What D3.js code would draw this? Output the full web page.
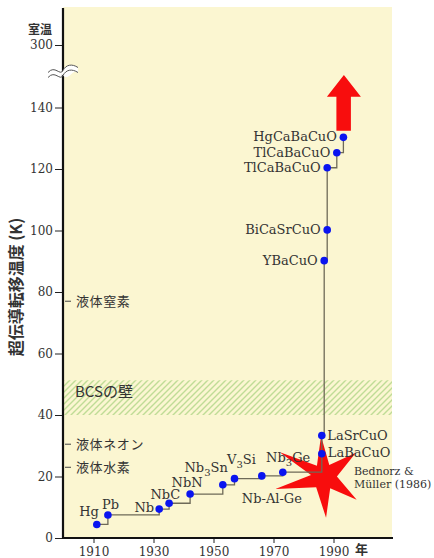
<!DOCTYPE html>
<html><head><meta charset="utf-8">
<script src="https://cdn.jsdelivr.net/npm/d3@7"></script>
<style>body{margin:0;background:#fff} svg{display:block}</style>
</head><body><svg id="c" width="434" height="558"></svg>
<script>
// ---- data ----
const materials = ["Hg","Pb","Nb","NbC","NbN","Nb3Sn","V3Si","Nb-Al-Ge","Nb3Ge","LaBaCuO","LaSrCuO","YBaCuO","BiCaSrCuO","TlCaBaCuO","TlCaBaCuO","HgCaBaCuO"];
const years = [1911.1,1914.8,1931.9,1935.2,1942.2,1953.1,1957.0,1966.1,1973.1,1986.1,1986.1,1986.9,1987.9,1987.9,1991.1,1993.3];
const tc = [4.4,7.5,9.4,11.3,14.3,17.3,19.3,20.2,21.4,27.4,33.3,90.2,100.2,120.4,125.3,130.3];
const yTicks = [0,20,40,60,80,100,120,140,300];
const xTicks = [1910,1930,1950,1970,1990];
const coolants = ["液体窒素","液体ネオン","液体水素"];
const coolantTemps = [77,30.5,23];
const bcsWall = [40,51.3];
const discoveryNote = ["Bednorz &","Müller (1986)"];
const starCenter = [1986.8,19.9];

// ---- layout ----
const serif = "'DejaVu Serif', serif";
const cjk = "'Noto Sans CJK JP', sans-serif";
const svg = d3.select("#c");
const pL = 63, pR = 392, pT = 7, pB = 538;
const x = d3.scaleLinear().domain([1910,1990]).range([93.5,333.5]);
const y = d3.scaleLinear().domain([0,140,300]).range([538,107.5,45]);

const defs = svg.append("defs");
const pat = defs.append("pattern").attr("id","hatch").attr("patternUnits","userSpaceOnUse")
  .attr("width",6).attr("height",6);
pat.append("path").attr("d","M-1,1 l2,-2 M0,6 l6,-6 M5,7 l2,-2")
  .attr("stroke","#bfdc96").attr("stroke-width",1.4);

// background
svg.append("rect").attr("x",pL).attr("y",pT).attr("width",pR-pL).attr("height",pB-pT)
  .attr("fill","#fbf6d1");
// BCS band
svg.append("rect").attr("x",pL).attr("y",y(bcsWall[1])).attr("width",pR-pL)
  .attr("height",y(bcsWall[0])-y(bcsWall[1])).attr("fill","url(#hatch)");
svg.append("text").attr("x",75).attr("y",y(bcsWall[1])+17).attr("font-family",cjk)
  .attr("font-size",15).attr("fill","#333").text("BCSの壁");

// star
{
  const cx = x(starCenter[0]), cy = y(starCenter[1]);
  const outer = [[-94,41],[-37,40],[35,40],[87,41],[166,50],[-151,51]];
  const sp = [];
  outer.forEach((o,i)=>{
    const a = o[0]*Math.PI/180;
    sp.push([cx+o[1]*Math.cos(a), cy+o[1]*Math.sin(a)]);
    let n = outer[(i+1)%outer.length][0];
    if (n < o[0]) n += 360;
    const m = (o[0]+n)/2*Math.PI/180;
    sp.push([cx+13*Math.cos(m), cy+13*Math.sin(m)]);
  });
  svg.append("polygon").attr("points",sp.map(p=>p.join(",")).join(" ")).attr("fill","#f80d0d");
}

// coolant markers
coolants.forEach((c,i)=>{
  const yy = y(coolantTemps[i]);
  svg.append("line").attr("x1",65).attr("x2",71).attr("y1",yy).attr("y2",yy).attr("stroke","#444").attr("stroke-width",1);
  svg.append("text").attr("x",76).attr("y",yy).attr("dy","0.36em").attr("font-family",cjk)
    .attr("font-size",13).attr("letter-spacing",0.6).attr("fill","#333").text(c);
});

// step line
const pts = years.map((yr,i)=>[x(yr), y(tc[i])]);
svg.append("path").attr("d", d3.line().curve(d3.curveStepAfter)(pts))
  .attr("fill","none").attr("stroke","#6e6a58").attr("stroke-width",1.3);

// dots
svg.selectAll("circle.pt").data(pts).join("circle").attr("class","pt")
  .attr("cx",d=>d[0]).attr("cy",d=>d[1]).attr("r",3.8).attr("fill","#0a14f0");

// labels
const place = [
  {a:"end",dx:2,dy:-8},{a:"start",dx:-6,dy:-6},{a:"end",dx:-5,dy:3},{a:"end",dx:11,dy:-4},
  {a:"middle",dx:-3,dy:-7},{a:"end",dx:5,dy:-13},{a:"start",dx:-7.5,dy:-14.5},{a:"start",dx:-20,dy:27.5},
  {a:"start",dx:-16.7,dy:-10.6},{a:"start",dx:6,dy:3.5},{a:"start",dx:5.5,dy:4.5},
  {a:"end",dx:-6.5,dy:4},{a:"end",dx:-6.5,dy:4},{a:"end",dx:-6.5,dy:4},{a:"end",dx:-6.5,dy:4},{a:"end",dx:-6.5,dy:4}
];
materials.forEach((m,i)=>{
  const p = place[i];
  const t = svg.append("text").attr("x",pts[i][0]+p.dx).attr("y",pts[i][1]+p.dy)
    .attr("text-anchor",p.a).attr("font-family",serif).attr("font-size",13).attr("fill","#333");
  const parts = m.split(/(\d)/).filter(s=>s.length);
  let shifted = false;
  parts.forEach(s=>{
    if (/^\d$/.test(s)) { t.append("tspan").attr("dy",4).attr("font-size",10).text(s); shifted = true; }
    else { const ts = t.append("tspan").text(s); if (shifted) { ts.attr("dy",-4); shifted=false; } }
  });
});

// Bednorz note
discoveryNote.forEach((s,i)=>{
  svg.append("text").attr("x",354).attr("y",475+i*13.3).attr("font-family",serif)
    .attr("font-size",11).attr("fill","#333").text(s);
});

// arrow
{
  const cx = pts[pts.length-1][0], cy = pts[pts.length-1][1];
  const a = [[-7,-6.6],[-7,-40.6],[-16.5,-40.6],[0.5,-62.3],[17.5,-40.6],[7.5,-40.6],[7.5,-6.6]];
  svg.append("polygon").attr("points",a.map(d=>[cx+d[0],cy+d[1]].join(",")).join(" ")).attr("fill","#f80d0d");
}

// axes
const ya = svg.append("g").attr("transform",`translate(${pL},0)`)
  .call(d3.axisLeft(y).tickValues(yTicks).tickSize(8).tickSizeOuter(0).tickPadding(2));
ya.select(".domain").remove();
ya.selectAll("text").attr("font-family",serif).attr("font-size",12).attr("fill","#333");
ya.selectAll("line").attr("stroke","#222");
const xa = svg.append("g").attr("transform",`translate(0,${pB})`)
  .call(d3.axisBottom(x).tickValues(xTicks).tickFormat(d3.format("d")).tickSize(5).tickSizeOuter(0).tickPadding(4));
xa.select(".domain").remove();
xa.selectAll("text").attr("font-family",serif).attr("font-size",12).attr("fill","#333");
xa.selectAll("line").attr("stroke","#222");
svg.append("line").attr("x1",pL).attr("x2",pL).attr("y1",8).attr("y2",pB+1)
  .attr("stroke","#111").attr("stroke-width",2.2);
svg.append("line").attr("x1",pL-1).attr("x2",pR+1).attr("y1",pB).attr("y2",pB)
  .attr("stroke","#111").attr("stroke-width",2);

// axis break
{
  const bx0 = 48, bx1 = 78, by = 73, mx = (bx0+bx1)/2;
  const wave = (off)=>`M${bx0},${by+off+2} C${bx0+7},${by+off-6} ${bx0+12},${by+off+6} ${mx},${by+off} S${bx1-6},${by+off-7} ${bx1},${by+off-3}`;
  const back = (off)=>`L${bx1},${by+off-3} C${bx1-6},${by+off-7} ${mx+6},${by+off+6} ${mx},${by+off} S${bx0+7},${by+off-6} ${bx0},${by+off+2} Z`;
  svg.append("path").attr("d", wave(-2.5)+back(2.5)).attr("fill","#fff");
  svg.append("path").attr("d",wave(-2.5)).attr("fill","none").attr("stroke","#555").attr("stroke-width",1);
  svg.append("path").attr("d",wave(2.5)).attr("fill","none").attr("stroke","#555").attr("stroke-width",1);
}

// titles
svg.append("text").attr("x",40).attr("y",34).attr("text-anchor","middle").attr("font-family",cjk)
  .attr("font-size",12).attr("font-weight","bold").attr("fill","#333").text("室温");
svg.append("text").attr("transform","translate(15,287) rotate(-90)").attr("text-anchor","middle")
  .attr("dominant-baseline","central").attr("font-family",cjk).attr("font-size",16).attr("font-weight","bold")
  .attr("fill","#333").text("超伝導転移温度 (K)");
svg.append("text").attr("x",355).attr("y",554).attr("font-family",cjk).attr("font-size",13)
  .attr("font-weight","bold").attr("fill","#333").text("年");
</script></body></html>
